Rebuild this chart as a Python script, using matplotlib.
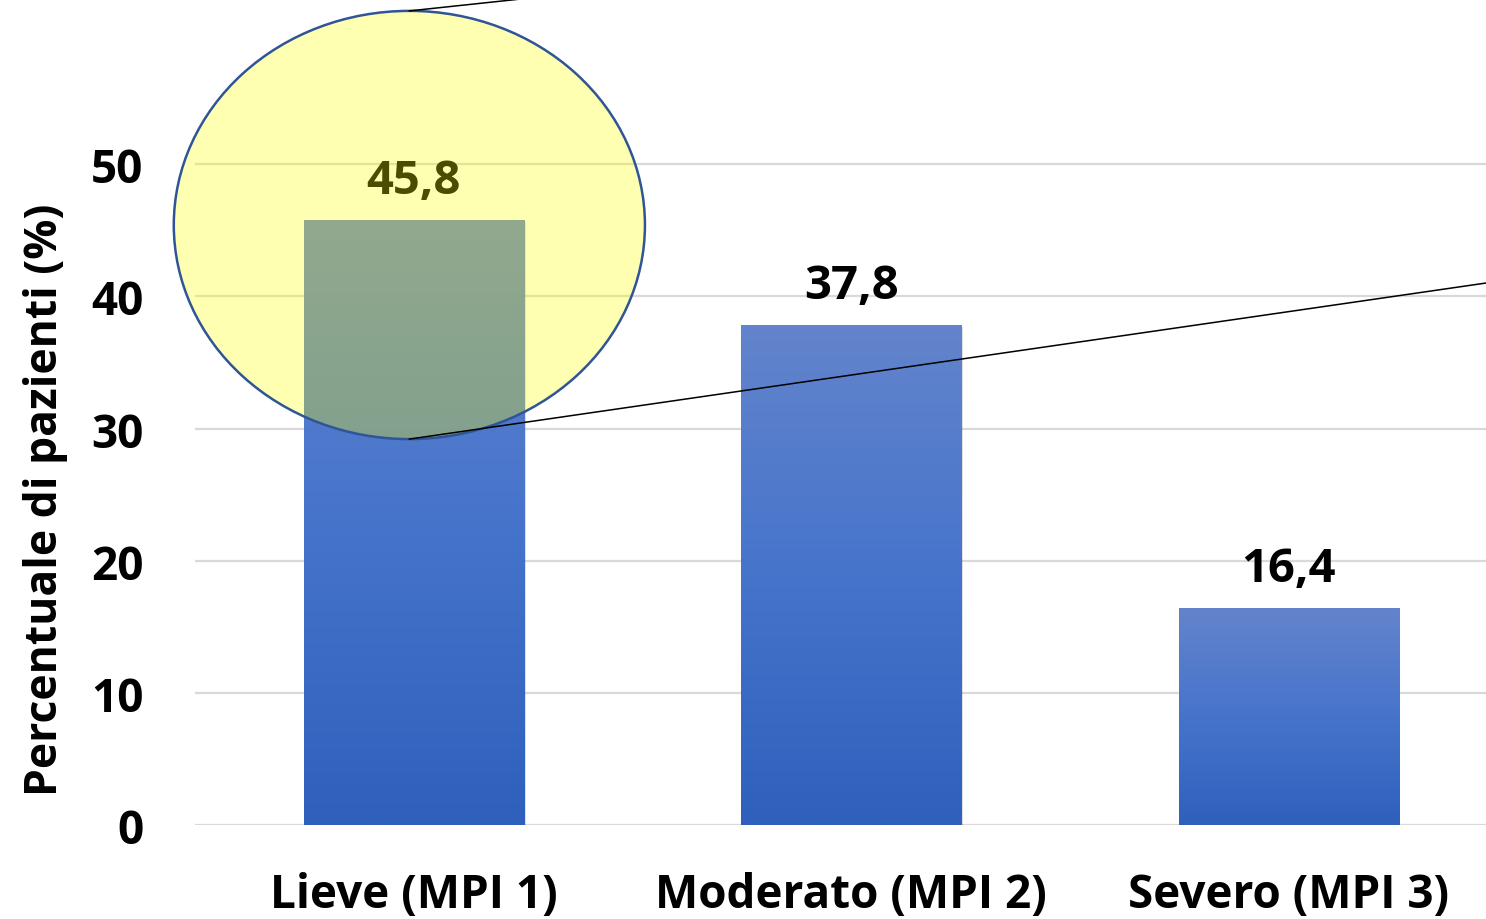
import numpy as np
import matplotlib.pyplot as plt
from matplotlib.colors import LinearSegmentedColormap
from matplotlib.patches import Rectangle, Ellipse

# categorie MPI e percentuali
categorie = ["Lieve (MPI 1)", "Moderato (MPI 2)", "Severo (MPI 3)"]
percentuali = [45.8, 37.8, 16.4]
etichette = ["45,8", "37,8", "16,4"]
yticks = [0, 10, 20, 30, 40, 50]

plt.rcParams['font.family'] = ['Open Sans', 'DejaVu Sans']
plt.rcParams['font.weight'] = 'bold'

fig = plt.figure(figsize=(14.86, 9.2), dpi=100)
ax = fig.add_axes([195/1486, 94/920, 1291/1486, 826/920])

x = np.arange(len(categorie))
width = 0.503

# gradiente verticale: chiaro in alto, scuro in basso
cmap = LinearSegmentedColormap.from_list(
    "blu", [(0.0, "#2E60BC"), (0.5, "#4674CB"), (1.0, "#6384CC")])
grad = np.linspace(0, 1, 256).reshape(-1, 1)

bars = ax.bar(x, percentuali, width=width, color="none", zorder=3)
for b in bars:
    x0, h = b.get_x(), b.get_height()
    # ombra leggera
    ax.add_patch(Rectangle((x0 + 0.004, -0.15), width, h, color="#000000",
                           alpha=0.12, lw=0, zorder=2))
    im = ax.imshow(grad, cmap=cmap, origin="lower", aspect="auto",
                   extent=(x0, x0 + width, 0, h), zorder=3)
    im.set_clip_path(b)

for xi, v, lab in zip(x, percentuali, etichette):
    ax.text(xi, v + 3.0, lab, ha="center", va="center", fontsize=34,
            fontweight="bold", color="black", zorder=5)

ax.set_xlim(-0.5, 2.451)
ax.set_ylim(0, 62.5)
ax.set_yticks(yticks)
ax.set_yticklabels([str(t) for t in yticks])
ax.set_xticks(x)
ax.set_xticklabels(categorie)
ax.tick_params(axis="both", length=0, labelsize=33)
ax.tick_params(axis="y", pad=37)
ax.tick_params(axis="x", pad=33)
for lab in ax.get_xticklabels() + ax.get_yticklabels():
    lab.set_fontweight("bold")

ax.grid(axis="y", color="#D9D9D9", lw=1.6, zorder=0)
ax.set_axisbelow(True)
for s in ax.spines.values():
    s.set_visible(False)

ax.set_ylabel("Percentuale di pazienti (%)", fontsize=32, fontweight="bold")
ax.yaxis.set_label_coords(-0.098, 0.395)

# evidenziazione della prima barra
ell = Ellipse((-0.01, 45.4), 1.077, 32.4, facecolor=(1, 1, 0, 0.3),
              edgecolor="#2F5597", lw=1.8, zorder=10, clip_on=False)
ax.add_patch(ell)
ax.plot([-0.01, 0.5], [61.6, 63.4], color="black", lw=1.1, zorder=11)
ax.plot([-0.01, 2.47], [29.2, 41.1], color="black", lw=1.1, zorder=11)

fig.savefig("out.png", dpi=100)
